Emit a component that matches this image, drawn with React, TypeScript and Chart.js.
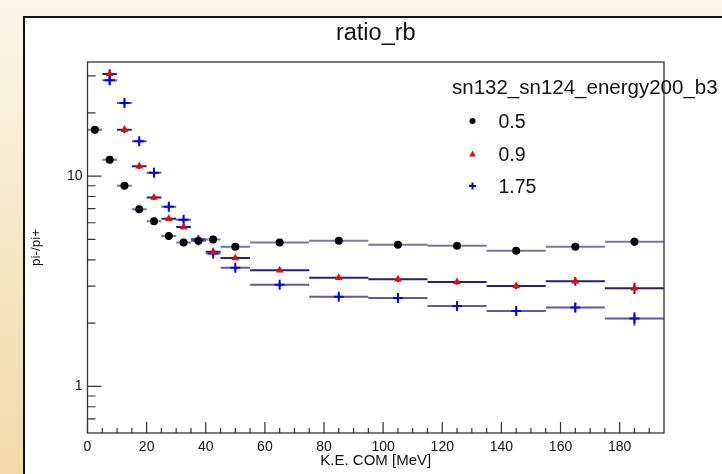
import React, { useEffect, useRef } from "react";
import { Chart, registerables } from "chart.js";

Chart.register(...registerables);

// ---- data ----
const binCenters = [2.5, 7.5, 12.5, 17.5, 22.5, 27.5, 32.5, 37.5, 42.5, 50, 65, 85, 105, 125, 145, 165, 185];
const binHalfWidths = [2.5, 2.5, 2.5, 2.5, 2.5, 2.5, 2.5, 2.5, 2.5, 5, 10, 10, 10, 10, 10, 10, 10];

const ratio05 = [16.6, 11.95, 8.99, 6.95, 6.1, 5.19, 4.83, 4.93, 4.99, 4.62, 4.83, 4.93, 4.72, 4.67, 4.42, 4.62, 4.88];
const ratio09 = [null, 30.6, 16.6, 11.15, 7.92, 6.27, 5.73, 5.01, 4.37, 4.08, 3.57, 3.29, 3.23, 3.14, 3.0, 3.16, 2.93];
const ratio175 = [null, 28.6, 22.3, 14.66, 10.37, 7.15, 6.2, 4.95, 4.28, 3.67, 3.04, 2.67, 2.63, 2.41, 2.28, 2.37, 2.1];

const err05 = [0.7, 0.3, 0.18, 0.12, 0.1, 0.08, 0.07, 0.07, 0.07, 0.07, 0.08, 0.09, 0.1, 0.1, 0.12, 0.16, 0.22];
const err09 = [null, 1.6, 0.6, 0.35, 0.22, 0.16, 0.13, 0.11, 0.1, 0.09, 0.08, 0.08, 0.09, 0.09, 0.1, 0.15, 0.18];
const err175 = [null, 1.5, 0.8, 0.45, 0.28, 0.2, 0.16, 0.13, 0.1, 0.08, 0.07, 0.07, 0.08, 0.08, 0.09, 0.12, 0.16];

const seriesLabels = ["0.5", "0.9", "1.75"];
const chartTitle = "ratio_rb";
const legendTitle = "sn132_sn124_energy200_b3";
const xTitle = "K.E. COM [MeV]";
const yTitle = "pi-/pi+";

const xMajorTicks = [0, 20, 40, 60, 80, 100, 120, 140, 160, 180];
const xMinorTicks = [5, 10, 15, 25, 30, 35, 45, 50, 55, 65, 70, 75, 85, 90, 95, 105, 110, 115, 125, 130, 135, 145, 150, 155, 165, 170, 175, 185, 190];
const yMajorTicks = [1, 10];
const yMinorTicks = [0.7, 0.8, 0.9, 2, 3, 4, 5, 6, 7, 8, 9, 20, 30];

const X_MIN = 0;
const X_MAX = 195;
const Y_MIN = 0.611;
const Y_MAX = 34.9;

const FONT = "'Liberation Sans', Arial, Helvetica, sans-serif";

const markerColors = ["#000000", "#ff0000", "#0000ff"];
const barColors = ["#7676a8", "#20207f", "#5c5ca6"];
const seriesValues = [ratio05, ratio09, ratio175];
const seriesErrors = [err05, err09, err175];

function buildPoints(vals: (number | null)[]) {
  const pts: { x: number; y: number }[] = [];
  vals.forEach((v, i) => {
    if (v !== null) pts.push({ x: binCenters[i], y: v });
  });
  return pts;
}

const framePlugin = {
  id: "rootFrame",
  beforeDraw(chart: any) {
    const { ctx, width, height } = chart;
    ctx.save();
    const g = ctx.createLinearGradient(0, 0, 0, height);
    g.addColorStop(0, "#fbf6e9");
    g.addColorStop(1, "#f0d9a6");
    ctx.fillStyle = g;
    ctx.fillRect(0, 0, width, height);
    ctx.fillStyle = "#ffffff";
    ctx.fillRect(23, 16, width, height);
    ctx.strokeStyle = "#111111";
    ctx.lineWidth = 2;
    ctx.beginPath();
    ctx.moveTo(24, height + 2);
    ctx.lineTo(24, 17);
    ctx.lineTo(width + 2, 17);
    ctx.stroke();
    // title
    ctx.fillStyle = "#111111";
    ctx.font = `23.5px ${FONT}`;
    ctx.textAlign = "center";
    ctx.textBaseline = "alphabetic";
    const ca = chart.chartArea;
    ctx.fillText(chartTitle, (ca.left + ca.right) / 2, 40);
    ctx.restore();
  },
  beforeDatasetsDraw(chart: any) {
    const { ctx, chartArea } = chart;
    const xs = chart.scales.x;
    const ys = chart.scales.y;
    ctx.save();
    ctx.beginPath();
    ctx.rect(chartArea.left, chartArea.top, chartArea.right - chartArea.left, chartArea.bottom - chartArea.top);
    ctx.clip();
    ctx.lineWidth = 2;
    seriesValues.forEach((vals, s) => {
      ctx.strokeStyle = barColors[s];
      vals.forEach((v, i) => {
        if (v === null) return;
        const e = seriesErrors[s][i] as number;
        const py = ys.getPixelForValue(v);
        const x0 = xs.getPixelForValue(binCenters[i] - binHalfWidths[i]);
        const x1 = xs.getPixelForValue(binCenters[i] + binHalfWidths[i]);
        const px = xs.getPixelForValue(binCenters[i]);
        ctx.beginPath();
        ctx.moveTo(x0, py);
        ctx.lineTo(x1, py);
        ctx.moveTo(px, ys.getPixelForValue(v + e));
        ctx.lineTo(px, ys.getPixelForValue(Math.max(v - e, 0.01)));
        ctx.stroke();
      });
    });
    ctx.restore();
  },
  afterDraw(chart: any) {
    const { ctx, chartArea: ca } = chart;
    const xs = chart.scales.x;
    const ys = chart.scales.y;
    ctx.save();
    ctx.strokeStyle = "#333333";
    ctx.lineWidth = 1.3;
    ctx.strokeRect(ca.left, ca.top, ca.right - ca.left, ca.bottom - ca.top);
    ctx.lineWidth = 1.2;
    ctx.beginPath();
    xMajorTicks.forEach((t) => {
      const p = xs.getPixelForValue(t);
      ctx.moveTo(p, ca.bottom);
      ctx.lineTo(p, ca.bottom - 11);
    });
    xMinorTicks.forEach((t) => {
      const p = xs.getPixelForValue(t);
      ctx.moveTo(p, ca.bottom);
      ctx.lineTo(p, ca.bottom - 5);
    });
    yMajorTicks.forEach((t) => {
      const p = ys.getPixelForValue(t);
      ctx.moveTo(ca.left, p);
      ctx.lineTo(ca.left + 14, p);
    });
    yMinorTicks.forEach((t) => {
      const p = ys.getPixelForValue(t);
      ctx.moveTo(ca.left, p);
      ctx.lineTo(ca.left + 8, p);
    });
    ctx.stroke();

    // legend
    ctx.fillStyle = "#111111";
    ctx.textAlign = "left";
    ctx.textBaseline = "alphabetic";
    ctx.font = `20.5px ${FONT}`;
    ctx.fillText(legendTitle, 452, 94);
    ctx.font = `19.5px ${FONT}`;
    const ly = [121, 154, 186];
    const mx = 472.5;
    seriesLabels.forEach((lab, i) => {
      const y = ly[i];
      ctx.fillStyle = "#111111";
      ctx.fillText(lab, 498.5, y + 7);
      if (i === 0) {
        ctx.fillStyle = markerColors[0];
        ctx.beginPath();
        ctx.arc(mx, y, 3, 0, Math.PI * 2);
        ctx.fill();
      } else if (i === 1) {
        ctx.fillStyle = markerColors[1];
        ctx.beginPath();
        ctx.moveTo(mx, y - 3.5);
        ctx.lineTo(mx + 3.3, y + 2.5);
        ctx.lineTo(mx - 3.3, y + 2.5);
        ctx.closePath();
        ctx.fill();
      } else {
        ctx.strokeStyle = markerColors[2];
        ctx.lineWidth = 2;
        ctx.beginPath();
        ctx.moveTo(mx - 3.5, y);
        ctx.lineTo(mx + 3.5, y);
        ctx.moveTo(mx, y - 3.5);
        ctx.lineTo(mx, y + 3.5);
        ctx.stroke();
      }
    });
    ctx.restore();
  },
};

export default function App() {
  const ref = useRef<HTMLCanvasElement | null>(null);
  useEffect(() => {
    if (!ref.current) return;
    const chart = new Chart(ref.current, {
      type: "scatter",
      data: {
        datasets: [
          {
            label: seriesLabels[0],
            data: buildPoints(ratio05),
            pointStyle: "circle",
            pointRadius: 4,
            backgroundColor: markerColors[0],
            borderColor: markerColors[0],
            borderWidth: 0,
            showLine: false,
          },
          {
            label: seriesLabels[1],
            data: buildPoints(ratio09),
            pointStyle: "triangle",
            pointRadius: 4.5,
            backgroundColor: markerColors[1],
            borderColor: markerColors[1],
            borderWidth: 0,
            showLine: false,
          },
          {
            label: seriesLabels[2],
            data: buildPoints(ratio175),
            pointStyle: "cross",
            pointRadius: 5,
            backgroundColor: markerColors[2],
            borderColor: markerColors[2],
            borderWidth: 2,
            showLine: false,
          },
        ],
      },
      plugins: [framePlugin],
      options: {
        animation: false,
        responsive: false,
        events: [],
        layout: { padding: { left: 20, right: 58, top: 62, bottom: 0 } },
        plugins: {
          legend: { display: false },
          title: { display: false },
          tooltip: { enabled: false },
        },
        scales: {
          x: {
            type: "linear",
            min: X_MIN,
            max: X_MAX,
            grid: { display: false, drawTicks: false, tickLength: 0 },
            border: { display: false },
            afterBuildTicks: (scale: any) => {
              scale.ticks = xMajorTicks.map((v) => ({ value: v }));
            },
            afterFit: (scale: any) => {
              scale.height = 41;
            },
            ticks: {
              autoSkip: false,
              maxRotation: 0,
              padding: 6,
              color: "#111111",
              font: { family: FONT, size: 14 },
              callback: (v: any) => String(v),
            },
            title: {
              display: true,
              text: xTitle,
              color: "#111111",
              font: { family: FONT, size: 15 },
              padding: { top: 0, bottom: 4 },
            },
          },
          y: {
            type: "logarithmic",
            min: Y_MIN,
            max: Y_MAX,
            grid: { display: false, drawTicks: false, tickLength: 0 },
            border: { display: false },
            afterBuildTicks: (scale: any) => {
              scale.ticks = yMajorTicks.map((v) => ({ value: v }));
            },
            afterFit: (scale: any) => {
              scale.width = 67.5;
            },
            ticks: {
              autoSkip: false,
              padding: 5,
              color: "#111111",
              font: { family: FONT, size: 14 },
              callback: (v: any) => String(v),
            },
            title: {
              display: true,
              text: yTitle,
              color: "#111111",
              font: { family: FONT, size: 13.5 },
              padding: { top: 8, bottom: 0 },
            },
          },
        },
      },
    } as any);
    return () => chart.destroy();
  }, []);
  return (
    <div style={{ position: "fixed", left: 0, top: 0, width: 722, height: 474, overflow: "hidden" }}>
      <canvas ref={ref} width={722} height={474} style={{ display: "block", width: 722, height: 474 }} />
    </div>
  );
}
